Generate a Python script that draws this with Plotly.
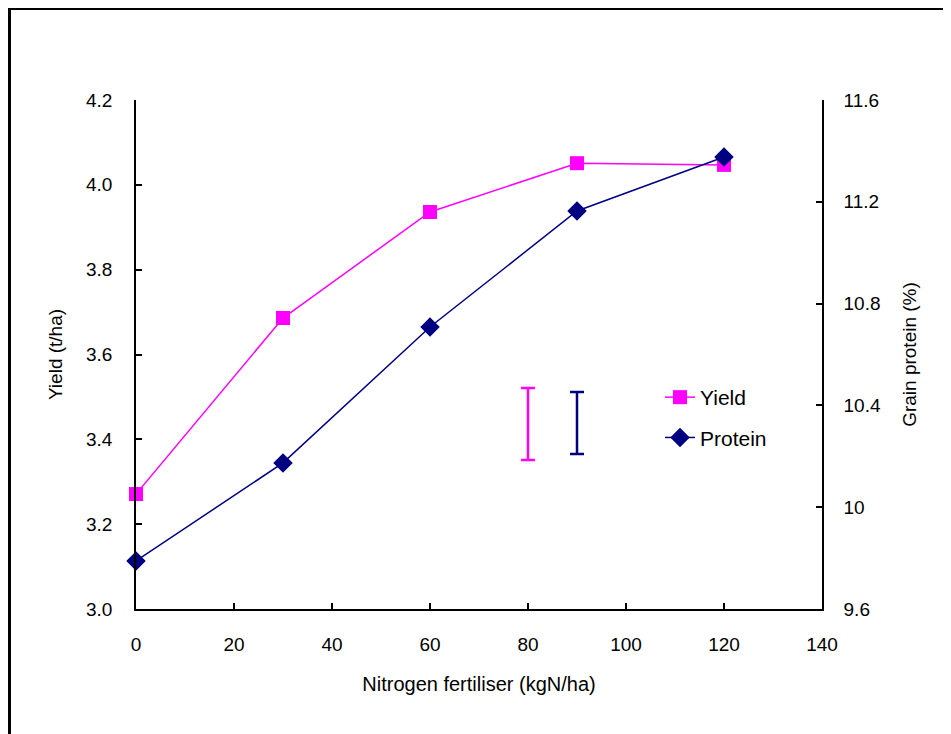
import plotly.graph_objects as go

# Data
nitrogen = [0, 30, 60, 90, 120]
yield_t_ha = [3.271, 3.686, 3.936, 4.051, 4.047]
protein_pct = [9.789, 10.174, 10.708, 11.164, 11.376]

# LSD bars (position, centre, half-length)
lsd_yield_x = [80]
lsd_yield_center = [3.436]
lsd_yield_half = [0.085]
lsd_protein_x = [90]
lsd_protein_center = [10.331]
lsd_protein_half = [0.122]

x_ticks = [0, 20, 40, 60, 80, 100, 120, 140]
y_ticks = [3.0, 3.2, 3.4, 3.6, 3.8, 4.0, 4.2]
y2_ticks = [9.6, 10.0, 10.4, 10.8, 11.2, 11.6]

MAGENTA = "#FF00FF"
NAVY = "#000080"
FONT = "Liberation Sans, Arial, sans-serif"

fig = go.Figure()

fig.add_trace(go.Scatter(
    x=nitrogen, y=yield_t_ha, name="Yield", mode="lines+markers",
    line=dict(color=MAGENTA, width=1.5),
    marker=dict(symbol="square", size=14, color=MAGENTA),
    cliponaxis=False, legendgroup="a", yaxis="y",
))
fig.add_trace(go.Scatter(
    x=nitrogen, y=protein_pct, name="Protein", mode="lines+markers",
    line=dict(color=NAVY, width=1.5),
    marker=dict(symbol="diamond", size=15, color=NAVY),
    cliponaxis=False, legendgroup="b", yaxis="y2",
))
fig.add_trace(go.Scatter(
    x=lsd_yield_x, y=lsd_yield_center, mode="markers", showlegend=False,
    marker=dict(size=1, color="rgba(0,0,0,0)"),
    error_y=dict(type="data", array=lsd_yield_half, color=MAGENTA, thickness=2.5, width=7),
    yaxis="y", hoverinfo="skip",
))
fig.add_trace(go.Scatter(
    x=lsd_protein_x, y=lsd_protein_center, mode="markers", showlegend=False,
    marker=dict(size=1, color="rgba(0,0,0,0)"),
    error_y=dict(type="data", array=lsd_protein_half, color=NAVY, thickness=2.5, width=7),
    yaxis="y2", hoverinfo="skip",
))

# page offset of the figure inside the browser window (body margin)
OFF = 8
W, H = 951 - OFF, 734 - OFF
L = 136 - OFF
R = W - (822 - OFF)
T = 100 - OFF
B = H - (609 - OFF)
pw, ph = W - L - R, H - T - B


def px_x(p):
    return (p - OFF - L) / pw


def px_y(p):
    return (H - B - (p - OFF)) / ph


axis_common = dict(
    showline=True, linecolor="#000000", linewidth=1.5,
    ticks="inside", ticklen=6, tickwidth=1.5, tickcolor="#000000",
    showgrid=False, zeroline=False,
    tickfont=dict(family=FONT, size=19, color="#000000"),
)

fig.update_layout(
    width=W, height=H,
    margin=dict(l=L, r=R, t=T, b=B, autoexpand=False),
    paper_bgcolor="white", plot_bgcolor="white",
    font=dict(family=FONT, size=19, color="#000000"),
    xaxis=dict(
        range=[0, 140], tickvals=x_ticks, ticklabelstandoff=17,
        title=dict(text="Nitrogen fertiliser (kgN/ha)", standoff=23,
                   font=dict(family=FONT, size=20)),
        **axis_common,
    ),
    yaxis=dict(
        range=[3.0, 4.2], tickvals=y_ticks, tickformat=".1f", ticklabelstandoff=18,
        title=dict(text="Yield (t/ha)", standoff=18, font=dict(family=FONT, size=19)),
        **axis_common,
    ),
    yaxis2=dict(
        range=[9.6, 11.6], tickvals=y2_ticks, overlaying="y", side="right",
        ticklabelstandoff=16,
        title=dict(text="Grain protein (%)", standoff=23, font=dict(family=FONT, size=19)),
        **axis_common,
    ),
    legend=dict(
        x=px_x(660), y=px_y(377), xanchor="left", yanchor="top",
        font=dict(family=FONT, size=21, color="#000000"),
        bgcolor="rgba(0,0,0,0)", traceorder="grouped", tracegroupgap=10,
    ),
    showlegend=True,
    shapes=[
        dict(type="line", xref="paper", yref="paper",
             x0=px_x(9.5), x1=px_x(9.5), y0=px_y(7), y1=px_y(800),
             line=dict(color="#000000", width=3)),
        dict(type="line", xref="paper", yref="paper",
             x0=px_x(9.5), x1=px_x(1000), y0=px_y(8.5), y1=px_y(8.5),
             line=dict(color="#000000", width=3)),
    ],
)

fig.write_html("out.html")
